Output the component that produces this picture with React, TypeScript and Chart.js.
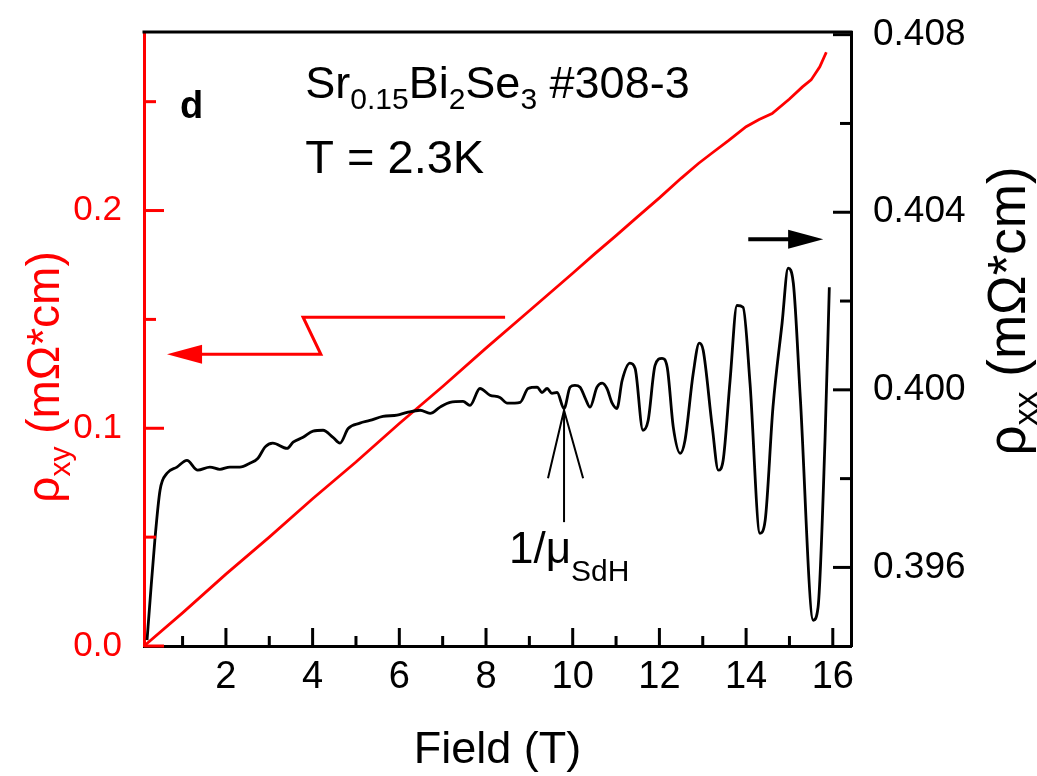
import React, { useEffect, useRef } from 'react';
import { Chart, registerables } from 'chart.js';

Chart.register(...registerables);

// ---- data ----
const fieldXX = [0.18, 0.25, 0.36, 0.48, 0.64, 0.87, 1.10, 1.35, 1.63, 1.86,
  2.09, 2.32, 2.56, 2.74, 2.90, 3.08, 3.41, 3.55, 3.78, 4.01,
  4.24, 4.47, 4.63, 4.82, 5.09, 5.32, 5.62, 5.95, 6.18, 6.48,
  6.71, 6.94, 7.17, 7.47, 7.63, 7.86, 8.09, 8.32, 8.49, 8.79,
  8.97, 9.18, 9.29, 9.41, 9.52, 9.64, 9.80, 9.94, 10.05, 10.17,
  10.29, 10.40, 10.56, 10.68, 10.79, 10.91, 11.02, 11.14, 11.32, 11.44,
  11.62, 11.74, 11.90, 12.06, 12.18, 12.32, 12.48, 12.59, 12.78, 12.92,
  13.01, 13.22, 13.36, 13.47, 13.63, 13.79, 13.93, 14.09, 14.32, 14.44,
  14.62, 14.83, 14.97, 15.09, 15.25, 15.55, 15.66, 15.82, 15.92];
const rhoXX = [0.39436, 0.39526, 0.39661, 0.39774, 0.39812, 0.39826, 0.39841, 0.39819, 0.39826, 0.39821,
  0.39826, 0.39826, 0.39835, 0.39846, 0.39871, 0.39880, 0.39868, 0.39882, 0.39893, 0.39907,
  0.39909, 0.39893, 0.39880, 0.39913, 0.39925, 0.39931, 0.39940, 0.39943, 0.39949, 0.39954,
  0.39947, 0.39961, 0.39972, 0.39974, 0.39965, 0.40003, 0.39988, 0.39983, 0.39970, 0.39972,
  0.40003, 0.40006, 0.39994, 0.40003, 0.39992, 0.39994, 0.39958, 0.40006, 0.40010, 0.40006,
  0.39981, 0.39961, 0.40006, 0.40015, 0.40003, 0.39970, 0.39958, 0.40021, 0.40060, 0.40048,
  0.39909, 0.39931, 0.40055, 0.40071, 0.40051, 0.39916, 0.39857, 0.39886, 0.40037, 0.40105,
  0.40089, 0.39916, 0.39819, 0.39841, 0.40021, 0.40190, 0.40186, 0.40015, 0.39677, 0.39706,
  0.39961, 0.40150, 0.40274, 0.40240, 0.39983, 0.39481, 0.39510, 0.39886, 0.40231];

const fieldXY = [0.11, 1.0, 2.0, 3.0, 4.0, 5.0, 6.0, 7.0, 8.0, 9.0, 10.0, 10.5, 11.0, 11.5, 12.0,
  12.5, 12.9, 13.2, 13.6, 14.0, 14.3, 14.6, 15.0, 15.3, 15.5, 15.7, 15.85];
const rhoXY = [0.0, 0.0152, 0.0330, 0.0500, 0.0676, 0.0845, 0.1022, 0.1192, 0.1368, 0.1540, 0.1712, 0.1800, 0.1885, 0.1972, 0.2058,
  0.2148, 0.2216, 0.2262, 0.2322, 0.2385, 0.2418, 0.2445, 0.2512, 0.2568, 0.2600, 0.2660, 0.2727];

const xTickValues = [1, 2, 3, 4, 5, 6, 7, 8, 9, 10, 11, 12, 13, 14, 15, 16];
const xTickLabels = ['', '2', '', '4', '', '6', '', '8', '', '10', '', '12', '', '14', '', '16'];
const leftTickValues = [0, 0.05, 0.1, 0.15, 0.2, 0.25];
const leftTickLabels = ['0.0', '', '0.1', '', '0.2', ''];
const rightTickValues = [0.396, 0.398, 0.4, 0.402, 0.404, 0.406, 0.408];
const rightTickLabels = ['0.396', '', '0.400', '', '0.404', '', '0.408'];

const FONT = "'Liberation Sans', Arial, Helvetica, sans-serif";
const RED = '#ff0000';

type Run = { t: string; s: number; dy?: number; bold?: boolean };

function drawRuns(ctx: CanvasRenderingContext2D, x: number, y: number, runs: Run[]) {
  let cx = x;
  for (const r of runs) {
    ctx.font = `${r.bold ? 'bold ' : ''}${r.s}px ${FONT}`;
    ctx.fillText(r.t, cx, y + (r.dy || 0));
    cx += ctx.measureText(r.t).width;
  }
}
function runsWidth(ctx: CanvasRenderingContext2D, runs: Run[]) {
  let w = 0;
  for (const r of runs) {
    ctx.font = `${r.bold ? 'bold ' : ''}${r.s}px ${FONT}`;
    w += ctx.measureText(r.t).width;
  }
  return w;
}

const decor = {
  id: 'decor',
  afterDraw(chart: any) {
    const { ctx, chartArea: a, scales } = chart;
    const sx = scales.x, sl = scales.yL, sr = scales.yR;
    const X = (v: number) => sx.getPixelForValue(v);
    const YL = (v: number) => sl.getPixelForValue(v);
    const YR = (v: number) => sr.getPixelForValue(v);
    const line = (x1: number, y1: number, x2: number, y2: number) => {
      ctx.beginPath(); ctx.moveTo(x1, y1); ctx.lineTo(x2, y2); ctx.stroke();
    };
    ctx.save();
    ctx.lineCap = 'butt';
    // top frame
    ctx.strokeStyle = '#000';
    ctx.lineWidth = 3;
    line(a.left - 1.5, a.top, a.right + 1.5, a.top);
    // inward ticks
    ctx.lineWidth = 3;
    xTickValues.forEach((v, i) => {
      const p = X(v);
      line(p, a.bottom, p, a.bottom - (xTickLabels[i] ? 18 : 10));
    });
    rightTickValues.forEach((v, i) => {
      const p = YR(v);
      line(a.right, p, a.right - (rightTickLabels[i] ? 18 : 11), p);
    });
    ctx.strokeStyle = RED;
    leftTickValues.forEach((v, i) => {
      const p = YL(v);
      line(a.left, p, a.left + (leftTickLabels[i] ? 20 : 12), p);
    });

    // red arrow pointing to left axis
    ctx.strokeStyle = RED;
    ctx.fillStyle = RED;
    ctx.lineWidth = 3;
    ctx.beginPath();
    ctx.moveTo(X(8.44), YL(0.151));
    ctx.lineTo(X(3.78), YL(0.151));
    ctx.lineTo(X(4.19), YL(0.134));
    ctx.lineTo(X(1.3), YL(0.134));
    ctx.stroke();
    ctx.beginPath();
    ctx.moveTo(X(0.64), YL(0.134));
    ctx.lineTo(X(1.45), YL(0.134) - 9.5);
    ctx.lineTo(X(1.45), YL(0.134) + 9.5);
    ctx.closePath();
    ctx.fill();

    // black arrow pointing to right axis
    ctx.strokeStyle = '#000';
    ctx.fillStyle = '#000';
    ctx.lineWidth = 4;
    line(X(14.05), YR(0.40339), X(15.1), YR(0.40339));
    ctx.beginPath();
    ctx.moveTo(X(15.78), YR(0.40339));
    ctx.lineTo(X(14.97), YR(0.40339) - 9.5);
    ctx.lineTo(X(14.97), YR(0.40339) + 9.5);
    ctx.closePath();
    ctx.fill();

    // 1/mu_SdH arrow
    ctx.lineWidth = 2;
    line(X(9.8), YR(0.39954), X(9.8), YR(0.39702));
    ctx.beginPath();
    ctx.moveTo(X(9.43), YR(0.39801));
    ctx.lineTo(X(9.8), YR(0.39954));
    ctx.lineTo(X(10.24), YR(0.39801));
    ctx.stroke();

    // texts
    ctx.fillStyle = '#000';
    ctx.textBaseline = 'alphabetic';
    ctx.textAlign = 'left';
    drawRuns(ctx, X(0.94), YL(0.2424), [{ t: 'd', s: 38, bold: true }]);
    drawRuns(ctx, X(3.83), YL(0.2516), [
      { t: 'Sr', s: 45 }, { t: '0.15', s: 30, dy: 11 }, { t: 'Bi', s: 45 }, { t: '2', s: 30, dy: 11 },
      { t: 'Se', s: 45 }, { t: '3', s: 30, dy: 11 }, { t: ' #308-3', s: 45 },
    ]);
    drawRuns(ctx, X(3.83), YL(0.2171), [{ t: 'T = 2.3K', s: 47 }]);
    drawRuns(ctx, X(8.53), YR(0.39609), [{ t: '1/\u03bc', s: 44 }, { t: 'SdH', s: 30, dy: 18 }]);

    // x axis title
    ctx.textAlign = 'center';
    ctx.font = `45px ${FONT}`;
    ctx.fillText('Field (T)', (a.left + a.right) / 2, 763);
    ctx.textAlign = 'left';

    // left axis title (rotated)
    const leftRuns: Run[] = [{ t: '\u03c1', s: 46 }, { t: 'xy', s: 30, dy: 11 }, { t: ' (m\u03a9*cm)', s: 46 }];
    const lw = runsWidth(ctx, leftRuns);
    ctx.save();
    ctx.translate(59, 377 + lw / 2);
    ctx.rotate(-Math.PI / 2);
    ctx.fillStyle = RED;
    drawRuns(ctx, 0, 0, leftRuns);
    ctx.restore();

    const rightRuns: Run[] = [{ t: '\u03c1', s: 53 }, { t: 'xx', s: 34, dy: 12 }, { t: ' (m\u03a9*cm)', s: 53 }];
    const rw = runsWidth(ctx, rightRuns);
    ctx.save();
    ctx.translate(1025, 311 + rw / 2);
    ctx.rotate(-Math.PI / 2);
    ctx.fillStyle = '#000';
    drawRuns(ctx, 0, 0, rightRuns);
    ctx.restore();

    ctx.restore();
  },
};

const zeroPad = (s: any) => {
  s.paddingTop = 0; s.paddingBottom = 0; s.paddingLeft = 0; s.paddingRight = 0;
};

export default function App() {
  const ref = useRef<HTMLCanvasElement>(null);
  useEffect(() => {
    document.body.style.margin = '0';
    const canvas = ref.current!;
    const chart = new Chart(canvas, {
      type: 'line',
      data: {
        datasets: [
          {
            label: 'rho_xx',
            data: fieldXX.map((b, i) => ({ x: b, y: rhoXX[i] })),
            yAxisID: 'yR',
            borderColor: '#000',
            borderWidth: 2.8,
            pointRadius: 0,
            cubicInterpolationMode: 'monotone',
            fill: false,
          },
          {
            label: 'rho_xy',
            data: fieldXY.map((b, i) => ({ x: b, y: rhoXY[i] })),
            yAxisID: 'yL',
            borderColor: RED,
            borderWidth: 2.8,
            pointRadius: 0,
            tension: 0,
            fill: false,
          },
        ],
      },
      options: {
        animation: false,
        responsive: false,
        devicePixelRatio: 1,
        layout: { padding: { top: 32, left: 0, right: 0, bottom: 0 } },
        plugins: { legend: { display: false }, tooltip: { enabled: false }, title: { display: false } },
        scales: {
          x: {
            type: 'linear',
            position: 'bottom',
            min: 0.11,
            max: 16.42,
            afterBuildTicks: (s: any) => { s.ticks = xTickValues.map((v) => ({ value: v })); },
            afterFit: (s: any) => { s.height = 130; zeroPad(s); },
            ticks: {
              autoSkip: false,
              maxRotation: 0,
              padding: 9,
              color: '#000',
              font: { family: FONT, size: 38 },
              callback: (_v: any, i: number) => xTickLabels[i],
            },
            grid: { display: false, drawTicks: false },
            border: { display: true, color: '#000', width: 3 },
          },
          yL: {
            type: 'linear',
            position: 'left',
            min: 0,
            max: 0.282,
            afterBuildTicks: (s: any) => { s.ticks = leftTickValues.map((v) => ({ value: v })); },
            afterFit: (s: any) => { s.width = 144; zeroPad(s); },
            ticks: {
              autoSkip: false,
              padding: 22,
              color: RED,
              font: { family: FONT, size: 35 },
              callback: (_v: any, i: number) => leftTickLabels[i],
            },
            grid: { display: false, drawTicks: false },
            border: { display: true, color: RED, width: 3 },
          },
          yR: {
            type: 'linear',
            position: 'right',
            min: 0.39423,
            max: 0.40806,
            afterBuildTicks: (s: any) => { s.ticks = rightTickValues.map((v) => ({ value: v })); },
            afterFit: (s: any) => { s.width = 186; zeroPad(s); },
            ticks: {
              autoSkip: false,
              padding: 22,
              color: '#000',
              font: { family: FONT, size: 37 },
              callback: (_v: any, i: number) => rightTickLabels[i],
            },
            grid: { display: false, drawTicks: false },
            border: { display: true, color: '#000', width: 3 },
          },
        },
      },
      plugins: [decor],
    });
    return () => chart.destroy();
  }, []);
  return (
    <div style={{ position: 'absolute', left: 0, top: 0, width: 1037, height: 776, background: '#fff' }}>
      <canvas ref={ref} width={1037} height={776} style={{ width: 1037, height: 776, display: 'block' }} />
    </div>
  );
}
